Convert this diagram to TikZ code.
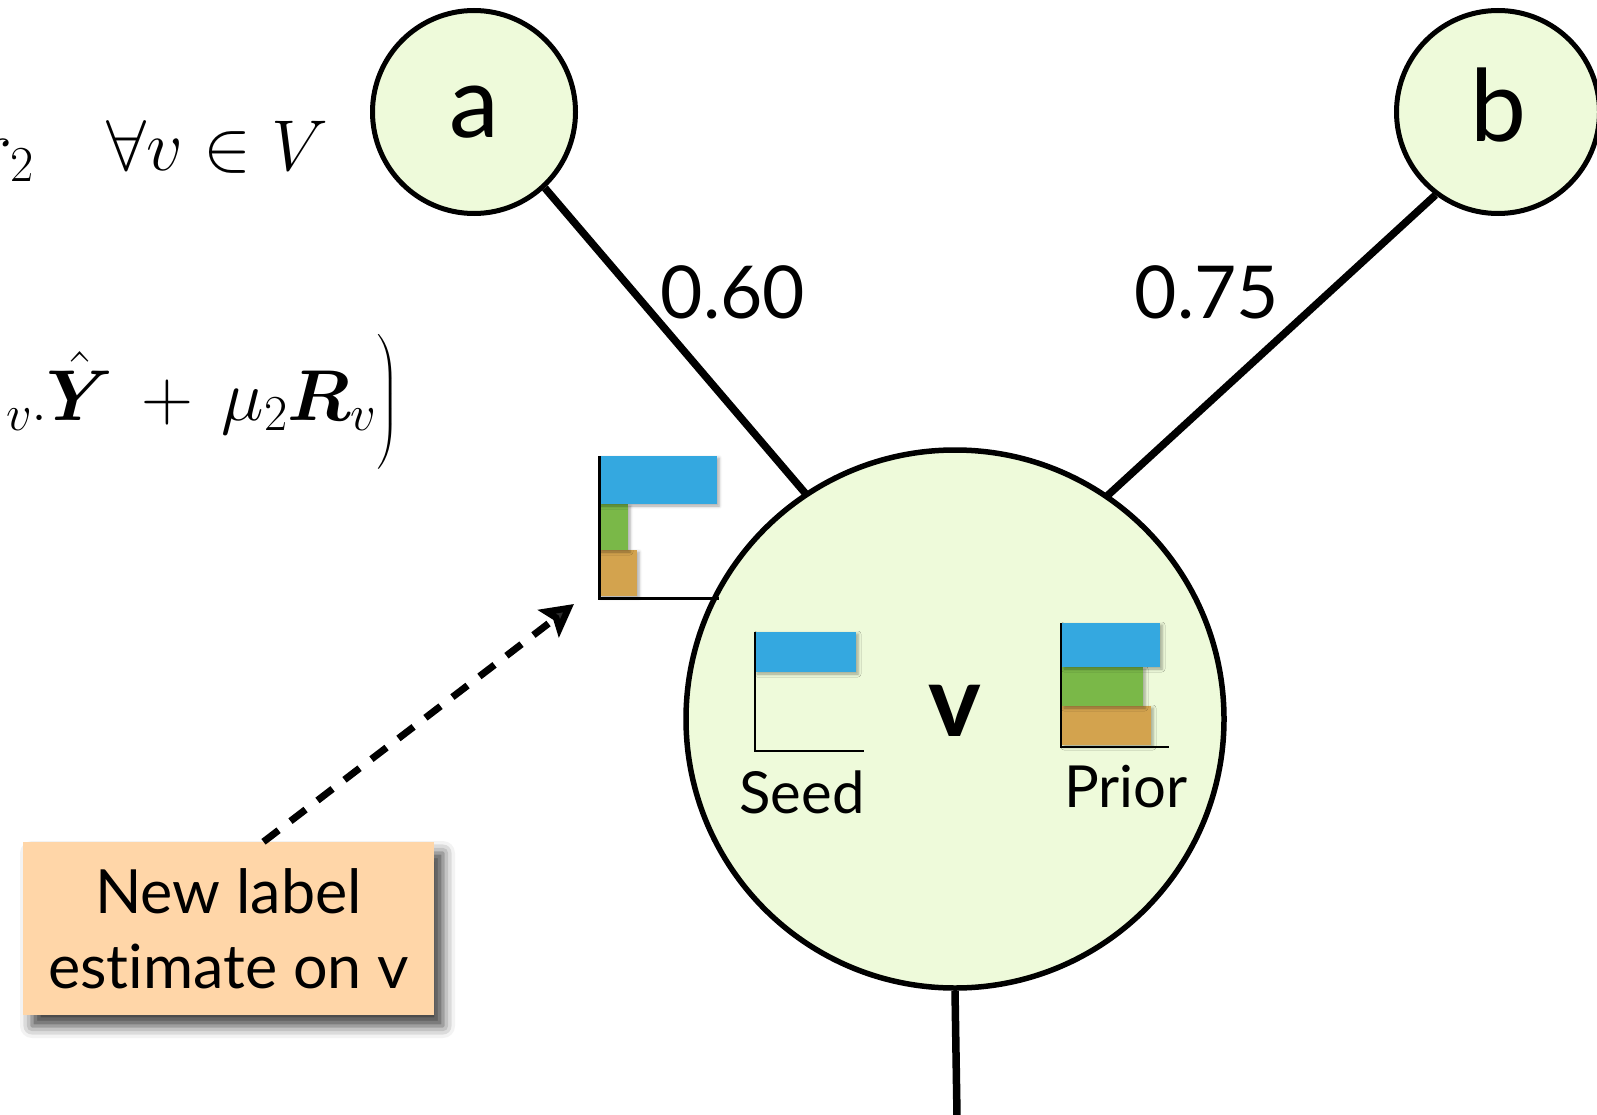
\RequirePackage{fix-cm}
\documentclass[tikz,border=0pt]{standalone}
\usepackage{amsmath}
\usepackage[no-math]{fontspec}
\setmainfont{Lato}[Ligatures=NoCommon]
\usetikzlibrary{arrows.meta,shadows.blur}

\definecolor{nodefill}{RGB}{238,250,218}
\definecolor{notefill}{RGB}{255,214,168}
\definecolor{barblue}{RGB}{52,168,224}
\definecolor{bargreen}{RGB}{122,184,72}
\definecolor{bartan}{RGB}{211,163,78}

\begin{document}
\begin{tikzpicture}[x=1pt,y=-1pt,
  vertex/.style={circle,draw=black,fill=nodefill,inner sep=0pt},
  link/.style={line width=7.5pt},
  weight/.style={font=\fontsize{73}{88}\selectfont,inner sep=0pt},
  barshade/.style={blur shadow={shadow xshift=2pt,shadow yshift=-2pt,
      shadow blur radius=3pt,shadow opacity=35}},
  axisline/.style={line width=2.5pt},
  chartlabel/.style={font=\fontsize{58}{70}\selectfont,inner sep=0pt,anchor=base},
  formula/.style={inner sep=0pt,anchor=base east,font=\fontsize{72}{86}\selectfont},
  notebox/.style={fill=notefill,minimum width=411pt,minimum height=173pt,
      align=center,inner sep=0pt,font=\fontsize{61}{75}\selectfont,
      blur shadow={shadow xshift=9pt,shadow yshift=-11pt,
      shadow blur radius=12pt,shadow opacity=75}},
  pointer/.style={line width=7pt,dash pattern=on 19pt off 15pt,
      -{Stealth[length=32pt,width=34pt,inset=6pt]}}
]
\useasboundingbox (0,0) rectangle (1597,1115);
\clip (0,0) rectangle (1597,1115);

% update rule, running in from the left margin
\node[formula] (constraint) at (328,171) {$r_2\quad\forall v\in V$};
\node[formula] (update) at (399,420)
  {$_{v\cdot}\hat{\boldsymbol{Y}}\,+\,\mu_2\boldsymbol{R}_v\Big)$};

% neighbour vertices
\node[vertex,minimum size=203pt,line width=5pt,font=\fontsize{100}{120}\selectfont]
  (a) at (474,112) {a};
\node[vertex,minimum size=203pt,line width=5pt,font=\fontsize{100}{120}\selectfont,
  text depth=14pt] (b) at (1498,112) {b};

% weighted edges meet under the central vertex
\coordinate (vhub) at (939,650);
\draw[link] (a.313) -- (vhub);
\draw[link] (b.233) -- (vhub);

% central vertex
\node[vertex,minimum size=538pt,line width=5.5pt,
  font=\bfseries\fontsize{100}{120}\selectfont,text depth=16pt] (v) at (955,719) {v};
\coordinate (vdown) at (957,1116);
\draw[link] (v.south) -- (vdown);

% edge weights
\node[weight] (wav) at (733,292) {0.60};
\node[weight] (wbv) at (1207,292) {0.75};

% new label estimate (outside the vertex)
\coordinate (est) at (599,598);
\fill[bartan,barshade] (599,550) rectangle (637,596);
\fill[bargreen,barshade] (599,504) rectangle (628,550);
\fill[barblue,barshade] (599,456) rectangle (717,504);
\draw[axisline,line width=3pt] (599,456) -- (est) -- (719,598);

% seed labels
\coordinate (seedorigin) at (755,751);
\fill[barblue,barshade] (755,632) rectangle (856,672);
\draw[axisline] (755,632) -- (seedorigin) -- (864,751);
\node[chartlabel] (seed) at (802,813) {Seed};

% prior labels
\coordinate (priororigin) at (1061,747);
\fill[bartan,barshade] (1062,706) rectangle (1151,745);
\fill[bargreen,barshade] (1062,667) rectangle (1143,706);
\fill[barblue,barshade] (1062,623) rectangle (1160,667);
\draw[axisline] (1061,623) -- (priororigin) -- (1169,747);
\node[chartlabel] (prior) at (1126,807) {Prior};

% callout
\node[notebox] (note) at (228.5,928.5) {New label\\estimate on v};
\coordinate (tip) at (574,604);
\draw[pointer] (note.north) ++(35,0) -- (tip);
\end{tikzpicture}
\end{document}
